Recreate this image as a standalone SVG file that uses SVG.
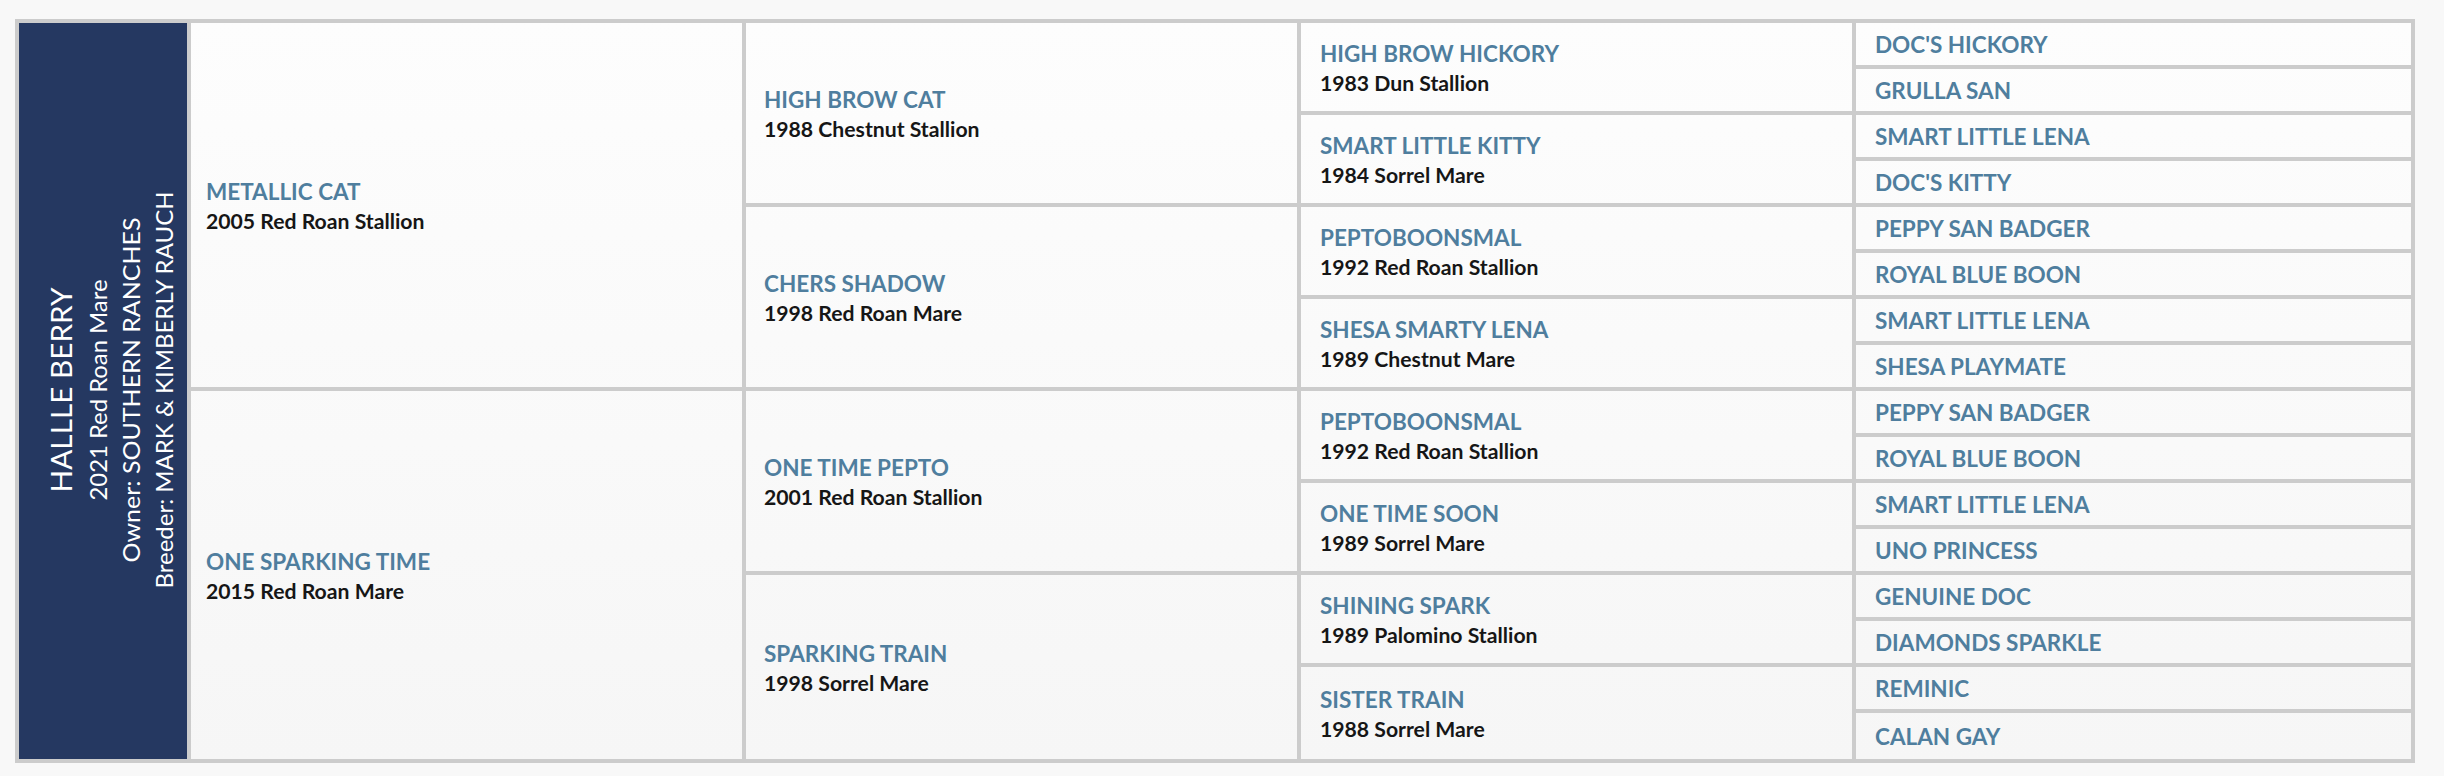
<svg xmlns="http://www.w3.org/2000/svg" width="2444" height="776" viewBox="0 0 2444 776">
<defs>
<linearGradient id="bg" gradientUnits="userSpaceOnUse" x1="0" y1="21" x2="0" y2="761">
<stop offset="0" stop-color="#fdfdfd"/>
<stop offset="1" stop-color="#f6f6f6"/>
</linearGradient>
<style>
.cell{fill:url(#bg);stroke:#cccccc;stroke-width:4}
.hero{fill:#253861;stroke:#cccccc;stroke-width:4}
.nm{font-family:Lato,"Liberation Sans",sans-serif;font-weight:700;font-size:22.5px;fill:#4f7e9e}
.sub{font-family:Lato,"Liberation Sans",sans-serif;font-weight:700;font-size:21.2px;fill:#161616}
.ht{font-family:Lato,"Liberation Sans",sans-serif;fill:#ffffff;text-anchor:middle}
</style>
</defs>
<rect x="0" y="0" width="2444" height="776" fill="#f8f8f8"/>
<g id="connectors"></g>
<g id="subject">
<rect class="hero" x="17" y="21" width="172" height="740"/>
<text class="ht" font-size="29" transform="translate(71.5,390) rotate(-90)" textLength="205" lengthAdjust="spacingAndGlyphs">HALLLE BERRY</text>
<text class="ht" font-size="24" transform="translate(107,390) rotate(-90)" textLength="221" lengthAdjust="spacingAndGlyphs">2021 Red Roan Mare</text>
<text class="ht" font-size="24" transform="translate(140,390) rotate(-90)" textLength="345" lengthAdjust="spacingAndGlyphs">Owner: SOUTHERN RANCHES</text>
<text class="ht" font-size="24" transform="translate(173,390) rotate(-90)" textLength="397" lengthAdjust="spacingAndGlyphs">Breeder: MARK &amp; KIMBERLY RAUCH</text>
</g>
<g id="sire">
<rect class="cell" x="189" y="21" width="555" height="368"/>
<text class="nm" x="206" y="200">METALLIC CAT</text>
<text class="sub" x="206" y="229">2005 Red Roan Stallion</text>
</g>
<g id="dam">
<rect class="cell" x="189" y="389" width="555" height="372"/>
<text class="nm" x="206" y="570">ONE SPARKING TIME</text>
<text class="sub" x="206" y="599">2015 Red Roan Mare</text>
</g>
<g id="ss">
<rect class="cell" x="744" y="21" width="555" height="184"/>
<text class="nm" x="764" y="108">HIGH BROW CAT</text>
<text class="sub" x="764" y="137">1988 Chestnut Stallion</text>
</g>
<g id="sd">
<rect class="cell" x="744" y="205" width="555" height="184"/>
<text class="nm" x="764" y="292">CHERS SHADOW</text>
<text class="sub" x="764" y="321">1998 Red Roan Mare</text>
</g>
<g id="ds">
<rect class="cell" x="744" y="389" width="555" height="184"/>
<text class="nm" x="764" y="476">ONE TIME PEPTO</text>
<text class="sub" x="764" y="505">2001 Red Roan Stallion</text>
</g>
<g id="dd">
<rect class="cell" x="744" y="573" width="555" height="188"/>
<text class="nm" x="764" y="662">SPARKING TRAIN</text>
<text class="sub" x="764" y="691">1998 Sorrel Mare</text>
</g>
<g id="sss">
<rect class="cell" x="1299" y="21" width="555" height="92"/>
<text class="nm" x="1320" y="62">HIGH BROW HICKORY</text>
<text class="sub" x="1320" y="91">1983 Dun Stallion</text>
</g>
<g id="ssd">
<rect class="cell" x="1299" y="113" width="555" height="92"/>
<text class="nm" x="1320" y="154">SMART LITTLE KITTY</text>
<text class="sub" x="1320" y="183">1984 Sorrel Mare</text>
</g>
<g id="sds">
<rect class="cell" x="1299" y="205" width="555" height="92"/>
<text class="nm" x="1320" y="246">PEPTOBOONSMAL</text>
<text class="sub" x="1320" y="275">1992 Red Roan Stallion</text>
</g>
<g id="sdd">
<rect class="cell" x="1299" y="297" width="555" height="92"/>
<text class="nm" x="1320" y="338">SHESA SMARTY LENA</text>
<text class="sub" x="1320" y="367">1989 Chestnut Mare</text>
</g>
<g id="dss">
<rect class="cell" x="1299" y="389" width="555" height="92"/>
<text class="nm" x="1320" y="430">PEPTOBOONSMAL</text>
<text class="sub" x="1320" y="459">1992 Red Roan Stallion</text>
</g>
<g id="dsd">
<rect class="cell" x="1299" y="481" width="555" height="92"/>
<text class="nm" x="1320" y="522">ONE TIME SOON</text>
<text class="sub" x="1320" y="551">1989 Sorrel Mare</text>
</g>
<g id="dds">
<rect class="cell" x="1299" y="573" width="555" height="92"/>
<text class="nm" x="1320" y="614">SHINING SPARK</text>
<text class="sub" x="1320" y="643">1989 Palomino Stallion</text>
</g>
<g id="ddd">
<rect class="cell" x="1299" y="665" width="555" height="96"/>
<text class="nm" x="1320" y="708">SISTER TRAIN</text>
<text class="sub" x="1320" y="737">1988 Sorrel Mare</text>
</g>
<g id="g4-01"><rect class="cell" x="1854" y="21" width="559" height="46"/><text class="nm" x="1875" y="53">DOC'S HICKORY</text></g>
<g id="g4-02"><rect class="cell" x="1854" y="67" width="559" height="46"/><text class="nm" x="1875" y="99">GRULLA SAN</text></g>
<g id="g4-03"><rect class="cell" x="1854" y="113" width="559" height="46"/><text class="nm" x="1875" y="145">SMART LITTLE LENA</text></g>
<g id="g4-04"><rect class="cell" x="1854" y="159" width="559" height="46"/><text class="nm" x="1875" y="191">DOC'S KITTY</text></g>
<g id="g4-05"><rect class="cell" x="1854" y="205" width="559" height="46"/><text class="nm" x="1875" y="237">PEPPY SAN BADGER</text></g>
<g id="g4-06"><rect class="cell" x="1854" y="251" width="559" height="46"/><text class="nm" x="1875" y="283">ROYAL BLUE BOON</text></g>
<g id="g4-07"><rect class="cell" x="1854" y="297" width="559" height="46"/><text class="nm" x="1875" y="329">SMART LITTLE LENA</text></g>
<g id="g4-08"><rect class="cell" x="1854" y="343" width="559" height="46"/><text class="nm" x="1875" y="375">SHESA PLAYMATE</text></g>
<g id="g4-09"><rect class="cell" x="1854" y="389" width="559" height="46"/><text class="nm" x="1875" y="421">PEPPY SAN BADGER</text></g>
<g id="g4-10"><rect class="cell" x="1854" y="435" width="559" height="46"/><text class="nm" x="1875" y="467">ROYAL BLUE BOON</text></g>
<g id="g4-11"><rect class="cell" x="1854" y="481" width="559" height="46"/><text class="nm" x="1875" y="513">SMART LITTLE LENA</text></g>
<g id="g4-12"><rect class="cell" x="1854" y="527" width="559" height="46"/><text class="nm" x="1875" y="559">UNO PRINCESS</text></g>
<g id="g4-13"><rect class="cell" x="1854" y="573" width="559" height="46"/><text class="nm" x="1875" y="605">GENUINE DOC</text></g>
<g id="g4-14"><rect class="cell" x="1854" y="619" width="559" height="46"/><text class="nm" x="1875" y="651">DIAMONDS SPARKLE</text></g>
<g id="g4-15"><rect class="cell" x="1854" y="665" width="559" height="46"/><text class="nm" x="1875" y="697">REMINIC</text></g>
<g id="g4-16"><rect class="cell" x="1854" y="711" width="559" height="50"/><text class="nm" x="1875" y="745">CALAN GAY</text></g>
</svg>
